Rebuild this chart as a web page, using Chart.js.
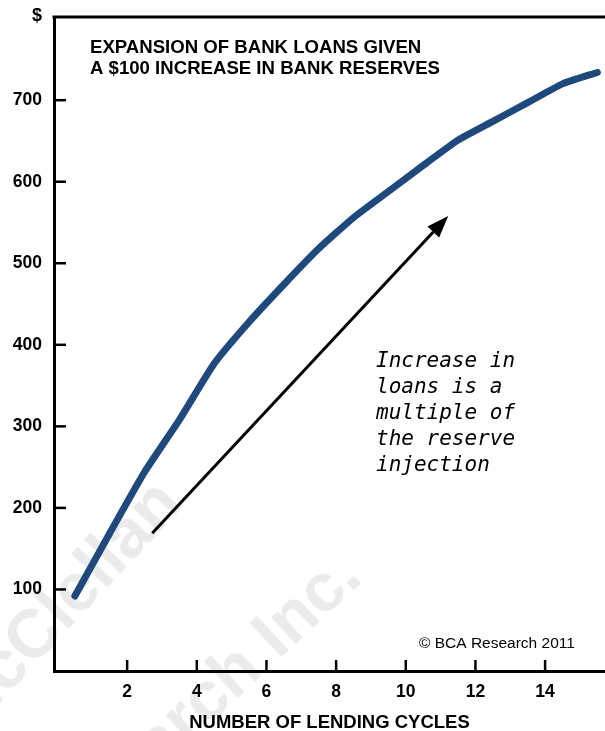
<!DOCTYPE html>
<html>
<head>
<meta charset="utf-8">
<script src="https://cdn.jsdelivr.net/npm/chart.js@4.4.1/dist/chart.umd.min.js"></script>
<style>
  html, body { margin: 0; padding: 0; background: #fff; }
  #wrap { width: 605px; height: 731px; position: relative; }
</style>
</head>
<body>
<div id="wrap"><canvas id="loans"></canvas></div>
<script>
// cumulative new loans after each lending cycle
const cycles = [0.5, 1.5, 2.5, 3.5, 4.5, 5.5, 6.5, 7.5, 8.5, 9.5, 10.5, 11.5, 12.5, 13.5, 14.5, 15.5];
const loans = [92, 169, 244, 308, 377, 428, 474, 518, 556, 588, 620, 651, 674, 697, 720, 734];

const xTicks = [2, 4, 6, 8, 10, 12, 14];
const yTicks = [100, 200, 300, 400, 500, 600, 700];

const titleLines = ["EXPANSION OF BANK LOANS GIVEN", "A $100 INCREASE IN BANK RESERVES"];
const noteLines = ["Increase in", "loans is a", "multiple of", "the reserve", "injection"];
const watermark = ["McClellan", "Research Inc."];

const FONT = "'Liberation Sans', Arial, sans-serif";

// background, watermark, titles, inward tick marks, arrow and note
const decorations = {
  id: "decorations",
  beforeDraw(chart) {
    const ctx = chart.ctx;
    ctx.save();
    ctx.fillStyle = "#fff";
    ctx.fillRect(0, 0, chart.width, chart.height);

    ctx.fillStyle = "#ebebeb";
    ctx.font = "bold 68px " + FONT;
    ctx.textAlign = "right";
    ctx.textBaseline = "alphabetic";
    ctx.save();
    ctx.translate(184, 505);
    ctx.rotate(-47 * Math.PI / 180);
    ctx.fillText(watermark[0], 0, 0);
    ctx.restore();
    ctx.save();
    ctx.translate(364, 580);
    ctx.rotate(-43 * Math.PI / 180);
    ctx.fillText(watermark[1], 0, 0);
    ctx.restore();
    ctx.restore();
  },
  afterDraw(chart) {
    const ctx = chart.ctx;
    const area = chart.chartArea;
    const xs = chart.scales.x;
    const ys = chart.scales.y;
    ctx.save();

    // top frame line
    ctx.strokeStyle = "#000";
    ctx.lineWidth = 3;
    ctx.beginPath();
    ctx.moveTo(area.left - 1.5, area.top);
    ctx.lineTo(area.right, area.top);
    ctx.stroke();

    // tick marks pointing into the plot
    ctx.lineWidth = 2.5;
    yTicks.forEach((v) => {
      const y = ys.getPixelForValue(v);
      ctx.beginPath();
      ctx.moveTo(area.left, y);
      ctx.lineTo(area.left + 12, y);
      ctx.stroke();
    });
    xTicks.forEach((v) => {
      const x = xs.getPixelForValue(v);
      ctx.beginPath();
      ctx.moveTo(x, area.bottom);
      ctx.lineTo(x, area.bottom - 11);
      ctx.stroke();
    });

    // unit label
    ctx.fillStyle = "#000";
    ctx.font = "bold 18px " + FONT;
    ctx.textAlign = "center";
    ctx.textBaseline = "alphabetic";
    ctx.fillText("$", 37, 21);

    // chart heading
    ctx.font = "bold 18.6px " + FONT;
    ctx.textAlign = "left";
    ctx.fillText(titleLines[0], 90, 53);
    ctx.fillText(titleLines[1], 90, 74);

    // copyright
    ctx.font = "15.5px " + FONT;
    ctx.fillText("\u00A9 BCA Research 2011", 419, 648);

    // arrow
    const x0 = xs.getPixelForValue(2.72), y0 = ys.getPixelForValue(169);
    const x1 = xs.getPixelForValue(11.22), y1 = ys.getPixelForValue(558);
    const ang = Math.atan2(y1 - y0, x1 - x0);
    const headLen = 22, headW = 8;
    const bx = x1 - headLen * Math.cos(ang), by = y1 - headLen * Math.sin(ang);
    ctx.lineWidth = 3;
    ctx.lineCap = "butt";
    ctx.beginPath();
    ctx.moveTo(x0, y0);
    ctx.lineTo(bx, by);
    ctx.stroke();
    ctx.beginPath();
    ctx.moveTo(x1, y1);
    ctx.lineTo(bx + headW * Math.sin(ang), by - headW * Math.cos(ang));
    ctx.lineTo(bx - headW * Math.sin(ang), by + headW * Math.cos(ang));
    ctx.closePath();
    ctx.fill();

    // handwritten note
    ctx.font = "oblique 21px 'DejaVu Sans Mono', monospace";
    noteLines.forEach((t, i) => {
      ctx.fillText(t, 376, 367 + i * 26);
    });
    ctx.restore();
  },
};

const el = document.getElementById("loans");
new Chart(el, {
  type: "line",
  data: {
    datasets: [
      {
        label: "Loans",
        data: cycles.map((c, i) => ({ x: c, y: loans[i] })),
        borderColor: "#1f497d",
        borderWidth: 7,
        borderCapStyle: "round",
        borderJoinStyle: "round",
        pointRadius: 0,
        tension: 0.15,
      },
    ],
  },
  options: {
    responsive: true,
    maintainAspectRatio: false,
    animation: false,
    layout: { padding: { top: 17, right: 0, left: 0, bottom: 0 } },
    plugins: {
      legend: { display: false },
      tooltip: { enabled: false },
    },
    scales: {
      x: {
        type: "linear",
        min: -0.1,
        max: 15.72,
        afterFit: (scale) => {
          scale.height = 60;
          scale.paddingLeft = 0;
          scale.paddingRight = 0;
        },
        afterBuildTicks: (scale) => { scale.ticks = xTicks.map((v) => ({ value: v })); },
        grid: { display: false, drawTicks: false },
        border: { display: true, color: "#000", width: 3 },
        ticks: {
          padding: 11,
          color: "#000",
          maxRotation: 0,
          font: { family: FONT, size: 17.5, weight: "bold" },
        },
        title: {
          display: true,
          text: "NUMBER OF LENDING CYCLES",
          color: "#000",
          font: { family: FONT, size: 18.5, weight: "bold", lineHeight: 1 },
          padding: { top: 0, bottom: -1.5 },
        },
      },
      y: {
        min: 0,
        max: 802,
        afterFit: (scale) => {
          scale.width = 54;
          scale.paddingTop = 0;
          scale.paddingBottom = 0;
        },
        afterBuildTicks: (scale) => { scale.ticks = yTicks.map((v) => ({ value: v })); },
        grid: { display: false, drawTicks: false },
        border: { display: true, color: "#000", width: 3 },
        ticks: {
          padding: 12,
          color: "#000",
          font: { family: FONT, size: 17.5, weight: "bold" },
        },
      },
    },
  },
  plugins: [decorations],
});
</script>
</body>
</html>
